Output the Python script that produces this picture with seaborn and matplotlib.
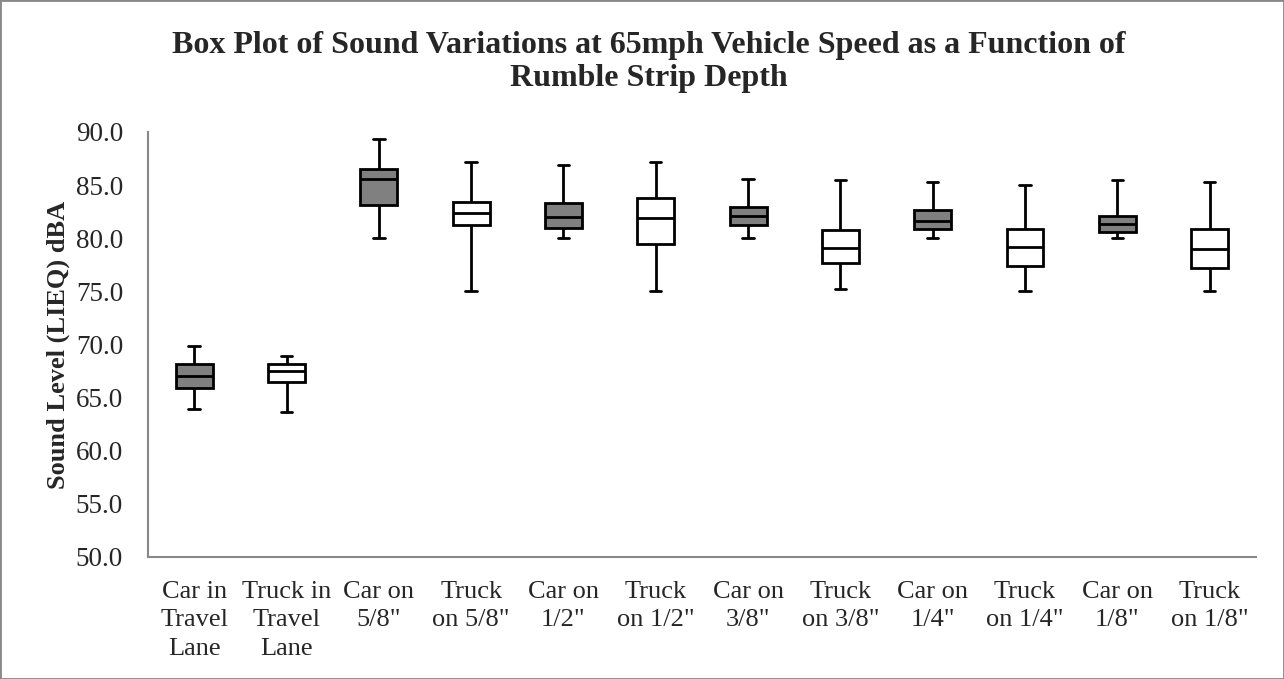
import numpy as np
import pandas as pd
import seaborn as sns
import matplotlib.pyplot as plt
from matplotlib.patches import Rectangle

# categorias e estatisticas (dBA)
categorias = ['Car in\nTravel\nLane', 'Truck in\nTravel\nLane', 'Car on\n5/8"', 'Truck\non 5/8"',
              'Car on\n1/2"', 'Truck\non 1/2"', 'Car on\n3/8"', 'Truck\non 3/8"',
              'Car on\n1/4"', 'Truck\non 1/4"', 'Car on\n1/8"', 'Truck\non 1/8"']
minimo = [63.9, 63.6, 80.0, 75.0, 80.0, 75.0, 80.0, 75.2, 80.0, 75.0, 80.0, 75.0]
q1 = [65.9, 66.5, 83.1, 81.2, 81.0, 79.5, 81.2, 77.7, 80.9, 77.4, 80.6, 77.2]
mediana = [67.0, 67.5, 85.6, 82.4, 82.0, 81.9, 82.1, 79.1, 81.6, 79.2, 81.3, 79.0]
q3 = [68.2, 68.2, 86.5, 83.4, 83.3, 83.8, 82.9, 80.8, 82.7, 80.9, 82.1, 80.9]
maximo = [69.9, 68.9, 89.3, 87.2, 86.9, 87.2, 85.6, 85.5, 85.3, 85.0, 85.5, 85.3]
cores = ['#808080', '#ffffff'] * 6

# cinco pontos por categoria -> quartis exatos com percentil linear
linhas = []
for i, cat in enumerate(categorias):
    for v in [minimo[i], q1[i], mediana[i], q3[i], maximo[i]]:
        linhas.append({'categoria': cat, 'valor': v})
dados = pd.DataFrame(linhas)

sns.set_style('white')
plt.rcParams['font.family'] = ['Liberation Serif', 'DejaVu Serif']

fig = plt.figure(figsize=(12.84, 6.79), dpi=100)
ax = fig.add_axes([0.1153, 0.1797, 0.8627, 0.6259])

sns.boxplot(data=dados, x='categoria', y='valor', hue='categoria', palette=cores,
            legend=False, width=0.4, whis=(0, 100), linecolor='black', linewidth=2,
            fliersize=0, ax=ax)

# encurtar as barras dos bigodes (caps)
for ln in ax.lines:
    xd = ln.get_xdata()
    if len(xd) == 2 and xd[0] != xd[1]:
        c = (xd[0] + xd[1]) / 2
        if abs(xd[1] - xd[0]) < 0.39:
            ln.set_xdata([c - 0.062, c + 0.062])

ax.set_ylim(50, 90)
ax.set_xlim(-0.5, 11.5)
ax.set_yticks(np.arange(50, 90.1, 5))
ax.set_yticklabels([f'{v:.1f}' for v in np.arange(50, 90.1, 5)], fontsize=19.5)
ax.set_xticks(range(12))
ax.set_xticklabels(categorias, fontsize=19, linespacing=1.38, va='top')
ax.set_xticks(np.arange(-0.5, 12, 1), minor=True)
ax.tick_params(axis='x', which='major', length=0, pad=17)
ax.tick_params(axis='x', which='minor', length=7, width=1.5, color='#888888', direction='out')
ax.tick_params(axis='y', length=6, width=1.5, color='#888888', direction='out', pad=12)
ax.set_xlabel('')
ax.set_ylabel('Sound Level (LIEQ) dBA', fontsize=19, fontweight='bold', labelpad=4)

for lado in ['top', 'right']:
    ax.spines[lado].set_visible(False)
for lado in ['left', 'bottom']:
    ax.spines[lado].set_color('#888888')
    ax.spines[lado].set_linewidth(1.5)

fig.suptitle('Box Plot of Sound Variations at 65mph Vehicle Speed as a Function of\nRumble Strip Depth',
             fontsize=23, fontweight='bold', x=0.505, y=0.955, linespacing=1.2)

fig.patches.append(Rectangle((0, 0), 1, 1, transform=fig.transFigure, fill=False,
                             edgecolor='#888888', linewidth=2))

plt.savefig('out.png', dpi=100)
